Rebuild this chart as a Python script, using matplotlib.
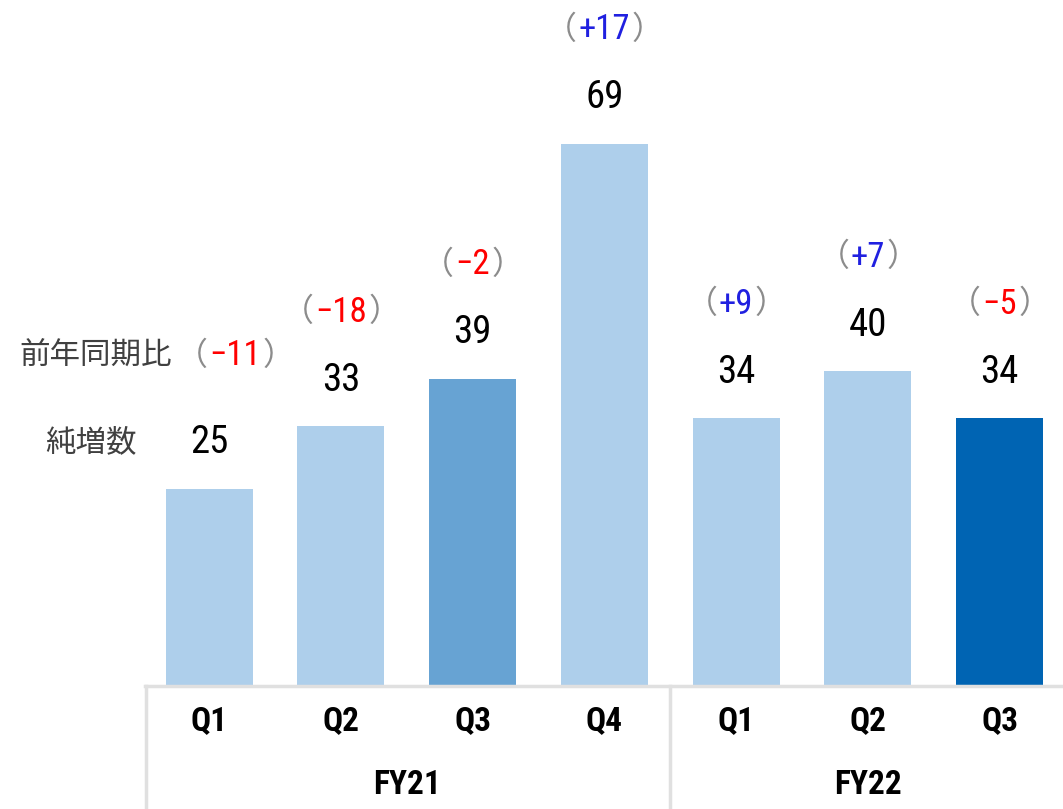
import matplotlib
matplotlib.use("Agg")
import matplotlib.pyplot as plt
from matplotlib import font_manager
from matplotlib.lines import Line2D
from matplotlib.offsetbox import TextArea, HPacker, AnnotationBbox

# data
quarters = ["Q1", "Q2", "Q3", "Q4", "Q1", "Q2", "Q3"]
years = ["FY21", "FY22"]
year_sizes = [4, 3]
net_adds = [25, 33, 39, 69, 34, 40, 34]
yoy_change = [-11, -18, -2, 17, 9, 7, -5]

# colours
light = "#AECFEB"
mid = "#67A3D3"
dark = "#0064B3"
bar_colors = [light, light, mid, light, light, light, dark]
red = "#FF0000"
blue = "#2020E0"
grey = "#8C8C8C"
text_grey = "#404040"
line_grey = "#E0E0E0"

installed = {f.name for f in font_manager.fontManager.ttflist}
num_font = next((f for f in ["Liberation Sans Narrow", "DejaVu Sans Condensed",
                             "Roboto Condensed", "Open Sans Condensed", "DejaVu Sans"]
                 if f in installed), "DejaVu Sans")
cjk_font = "Noto Sans CJK JP"

fig = plt.figure(figsize=(10.63, 8.09), dpi=100)
ax = fig.add_axes([145 / 1063, 124 / 809, 918 / 1063, 685 / 809])

x = list(range(len(net_adds)))
ax.bar(x, net_adds, width=0.66, color=bar_colors)
ax.set_xlim(-0.486, 6.48)
ax.set_ylim(0, 87.3)
ax.axis("off")

PX = 72 / 100  # points per pixel
val_off = 46 * PX
yoy_off = 114 * PX


def yoy_box(v):
    sign = "+" if v > 0 else "\u2212"
    col = blue if v > 0 else red
    paren = dict(color=grey, size=23, family=[cjk_font, "DejaVu Sans"])
    parts = [
        TextArea("\uff08", textprops=paren),
        TextArea(f"{sign}{abs(v)}", textprops=dict(color=col, size=25, family=[num_font])),
        TextArea("\uff09", textprops=paren),
    ]
    return HPacker(children=parts, pad=0, sep=1, align="center")


for i, (v, d) in enumerate(zip(net_adds, yoy_change)):
    ax.annotate(str(v), (i, v), xytext=(0, val_off), textcoords="offset points",
                ha="center", va="center", fontsize=28, family=num_font, color="black")
    # first label sits right of and level with the row title
    dx, dy = (26 * PX, 19 * PX) if i == 0 else (0, 0)
    ab = AnnotationBbox(yoy_box(d), (i, v), xybox=(dx, yoy_off + dy), xycoords="data",
                        boxcoords="offset points", frameon=False, box_alignment=(0.5, 0.5))
    ax.add_artist(ab)

# row labels on the left, level with the first bar's labels
ax.annotate("前年同期比", (-0.486, net_adds[0]), xytext=(27 * PX, yoy_off + 19 * PX),
            textcoords="offset points", ha="right", va="center", fontsize=22,
            family=cjk_font, color=text_grey, annotation_clip=False)
ax.annotate("純増数", (-0.486, net_adds[0]), xytext=(-8 * PX, val_off),
            textcoords="offset points", ha="right", va="center", fontsize=22,
            family=cjk_font, color=text_grey, annotation_clip=False)

# category table under the bars
tr = ax.get_xaxis_transform()
for i, q in enumerate(quarters):
    ax.text(i, -36 / 685, q, transform=tr, ha="center", va="center",
            fontsize=24, fontweight="bold", family=num_font, clip_on=False)

start = 0
for name, n in zip(years, year_sizes):
    ax.text(start + (n - 1) / 2, -100 / 685, name, transform=tr, ha="center",
            va="center", fontsize=24, fontweight="bold", family=num_font, clip_on=False)
    start += n

ax.add_line(Line2D([-0.486, 6.48], [-1 / 685, -1 / 685], transform=tr,
                   color=line_grey, lw=2.5, clip_on=False))
for xv in [-0.48, 3.5]:
    ax.add_line(Line2D([xv, xv], [-1 / 685, -130 / 685], transform=tr,
                       color=line_grey, lw=2.5, clip_on=False))

fig.savefig("out.png", dpi=100, facecolor="white")
